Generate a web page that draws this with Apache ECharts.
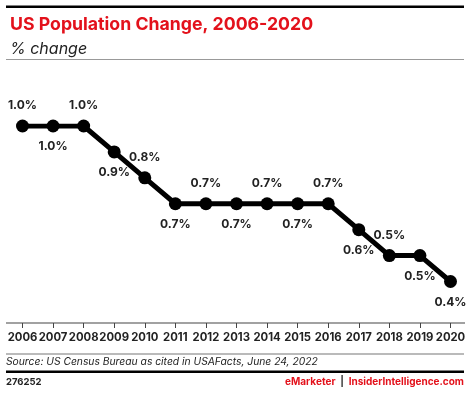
<!DOCTYPE html>
<html>
<head>
<meta charset="utf-8">
<script src="https://cdn.jsdelivr.net/npm/echarts@6/dist/echarts.min.js"></script>
<style>html,body{margin:0;padding:0;background:#fff;}#c{width:470px;height:393px;}</style>
</head>
<body>
<div id="c"></div>
<script>
var years = ['2006','2007','2008','2009','2010','2011','2012','2013','2014','2015','2016','2017','2018','2019','2020'];
var change = [1.0,1.0,1.0,0.9,0.8,0.7,0.7,0.7,0.7,0.7,0.7,0.6,0.5,0.5,0.4];

var FONT = 'Inter, Lato, sans-serif';
var chart = echarts.init(document.getElementById('c'), null, {renderer:'canvas'});
var last = change.length - 1;
var seriesData = change.map(function(v, i){
  var pos = (i % 2 === 0 && i !== last) ? 'top' : 'bottom';
  return {value: v, label: {position: pos}};
});
chart.setOption({
  animation: false,
  backgroundColor: '#fff',
  title: [
    {text: 'US Population Change, 2006-2020', left: 5, top: 11,
     textStyle: {color: '#e3111b', fontSize: 17.7, fontWeight: 'bold', fontFamily: FONT}},
    {text: '% change', left: 5, top: 36,
     textStyle: {color: '#222', fontSize: 16, fontWeight: 'normal', fontStyle: 'italic', fontFamily: FONT}}
  ],
  graphic: [
    {type: 'rect', shape: {x: 6, y: 5.5, width: 458, height: 2.5}, style: {fill: '#000'}},
    {type: 'rect', shape: {x: 6, y: 59, width: 458, height: 1}, style: {fill: '#999'}},
    {type: 'rect', shape: {x: 6, y: 322.5, width: 459, height: 1}, style: {fill: '#444'}},
    {type: 'rect', shape: {x: 6, y: 353.5, width: 458, height: 1}, style: {fill: '#777'}},
    {type: 'text', left: 6, top: 357, style: {text: 'Source: US Census Bureau as cited in USAFacts, June 24, 2022', fill: '#222', font: 'italic 10.3px ' + FONT}},
    {type: 'rect', shape: {x: 6, y: 370.5, width: 458, height: 2.5}, style: {fill: '#000'}},
    {type: 'text', left: 6, top: 377, style: {text: '276252', fill: '#222', font: 'bold 9.5px ' + FONT}},
    {type: 'text', right: 6, top: 377, style: {
      text: '{r|eMarketer}{g|  |  }{r|InsiderIntelligence.com}',
      rich: {
        r: {fill: '#e3111b', font: 'bold 10px ' + FONT},
        g: {fill: '#333', font: 'bold 10px ' + FONT}
      }}}
  ],
  grid: {left: 22.5, right: 19.5, top: 126, bottom: 70},
  xAxis: {
    type: 'category', data: years, boundaryGap: false,
    axisLine: {show: false},
    axisTick: {show: true, length: 5, lineStyle: {color: '#444'}},
    axisLabel: {color: '#222', fontSize: 11.3, fontWeight: 'bold', fontFamily: FONT, margin: 9, interval: 0}
  },
  yAxis: {type: 'value', min: 0.24, max: 1.0, show: false, splitLine: {show: false}},
  series: [{
    type: 'line', data: seriesData,
    lineStyle: {color: '#000', width: 5},
    itemStyle: {color: '#000'},
    symbol: 'circle', symbolSize: 13,
    label: {show: true, distance: 8, color: '#222', fontSize: 12, fontWeight: 'bold', fontFamily: FONT,
      formatter: function(p){ return p.value.toFixed(1) + '%'; }}
  }]
});
</script>
</body>
</html>
